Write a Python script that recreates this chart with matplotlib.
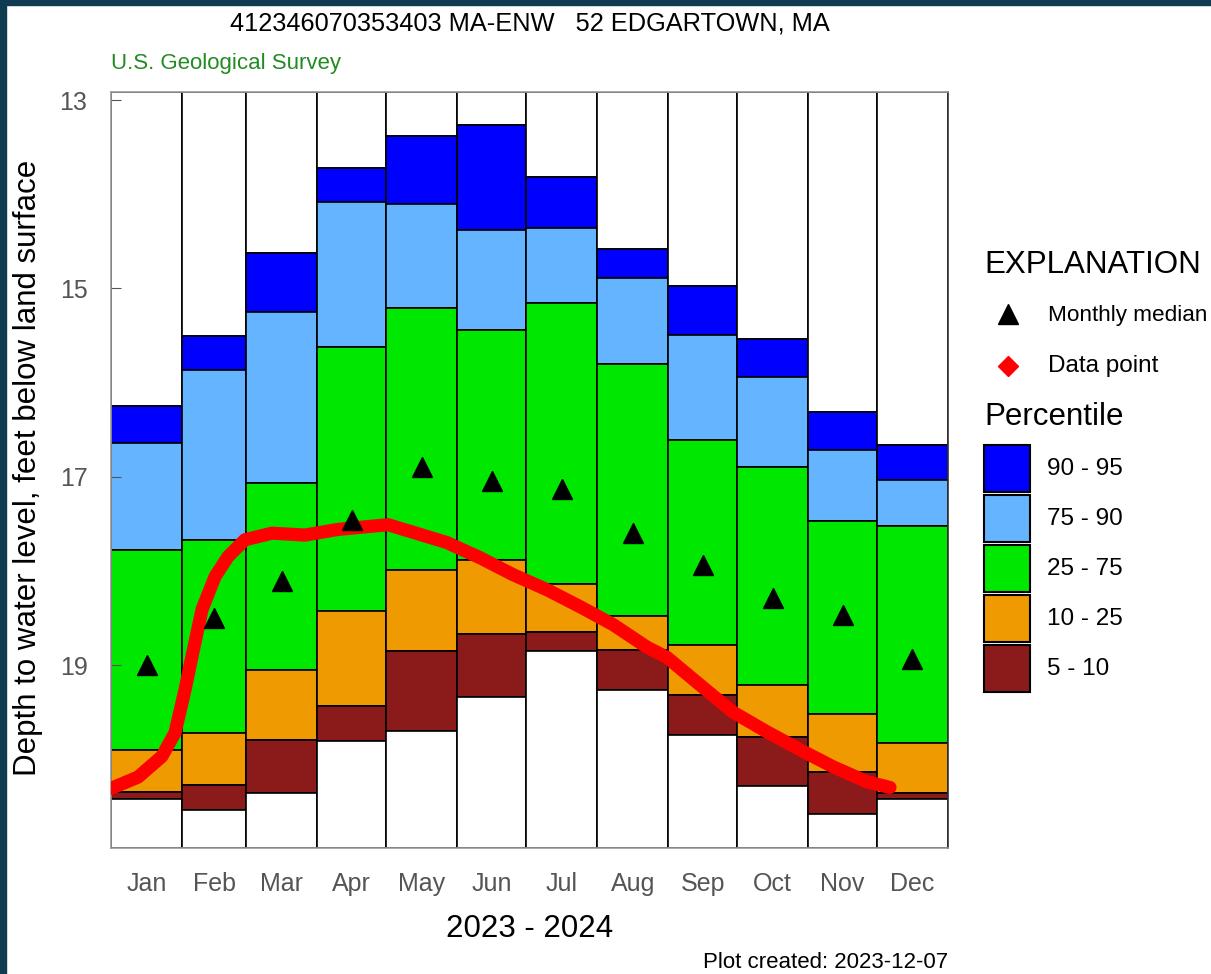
import matplotlib
matplotlib.use("Agg")
import matplotlib.pyplot as plt
from matplotlib.patches import Rectangle
from matplotlib.lines import Line2D
import numpy as np

plt.rcParams['font.family'] = ['Liberation Sans', 'DejaVu Sans']

months = ['Jan', 'Feb', 'Mar', 'Apr', 'May', 'Jun', 'Jul', 'Aug', 'Sep', 'Oct', 'Nov', 'Dec']
month_days = [31, 28, 31, 30, 31, 30, 31, 31, 30, 31, 30, 31]

# percentile boundaries, depth in feet below land surface
p95 = [16.25, 15.51, 14.62, 13.72, 13.38, 13.27, 13.82, 14.58, 14.98, 15.54, 16.31, 16.66]
p90 = [16.64, 15.87, 15.25, 14.08, 14.10, 14.38, 14.36, 14.89, 15.50, 15.94, 16.72, 17.03]
p75 = [17.78, 17.67, 17.07, 15.62, 15.21, 15.44, 15.16, 15.80, 16.61, 16.90, 17.47, 17.52]
p25 = [19.90, 19.72, 19.05, 18.43, 17.99, 17.89, 18.14, 18.48, 18.79, 19.21, 19.52, 19.83]
p10 = [20.35, 20.27, 19.80, 19.43, 18.85, 18.67, 18.65, 18.84, 19.32, 19.76, 20.14, 20.36]
p05 = [20.42, 20.54, 20.36, 19.81, 19.70, 19.34, 18.85, 19.27, 19.74, 20.28, 20.58, 20.42]
median = [19.00, 18.50, 18.11, 17.46, 16.90, 17.05, 17.13, 17.60, 17.94, 18.29, 18.47, 18.94]

# daily data, day of year vs depth
data_day = [0, 11.8, 22.2, 27.9, 32.3, 35.3, 39.7, 45.4, 51.0, 58.4, 70.2, 84.6, 99.0,
            120.8, 131.7, 146.5, 160.9, 175.3, 190.1, 204.5, 218.9, 233.7, 242.5,
            256.8, 271.2, 286.1, 300.5, 314.8, 329.7, 339.7]
data_depth = [20.31, 20.19, 19.97, 19.72, 19.26, 18.91, 18.41, 18.06, 17.85, 17.67, 17.60,
              17.62, 17.56, 17.51, 17.59, 17.70, 17.86, 18.04, 18.20, 18.38, 18.57, 18.81,
              18.92, 19.21, 19.50, 19.71, 19.90, 20.08, 20.24, 20.30]

colors = ['#0000FF', '#64B4FF', '#00E800', '#EE9A00', '#8B1A1A']
labels = ['90 - 95', '75 - 90', '25 - 75', '10 - 25', '5 - 10']

W, H = 1211, 974
ytop, ybot = 12.915, 20.943

def fx(x):
    return x / W

def fy(y):
    return 1 - y / H

fig = plt.figure(figsize=(W / 100, H / 100), dpi=100)
ax = fig.add_axes([fx(111), fy(848), fx(948) - fx(111), fy(92) - fy(848)])

starts = np.concatenate([[0], np.cumsum(month_days)[:-1]])
for i in range(12):
    bounds = [ytop, p95[i], p90[i], p75[i], p25[i], p10[i], p05[i], ybot]
    fills = ['white'] + colors + ['white']
    for j in range(7):
        ax.bar(starts[i], bounds[j + 1] - bounds[j], bottom=bounds[j], width=month_days[i],
               align='edge', color=fills[j], edgecolor='black', linewidth=1.2, zorder=1)

ax.plot(data_day, data_depth, color='red', linewidth=9.5, solid_capstyle='round',
        solid_joinstyle='round', zorder=3)
mid = starts + np.array(month_days) / 2
ax.plot(mid, median, linestyle='none', marker='^', markersize=15, color='black', zorder=4)

ax.set_xlim(0, 365)
ax.set_ylim(ybot, ytop)
ax.set_yticks([13, 15, 17, 19])
ax.set_xticks(mid)
ax.set_xticklabels(months)
ax.tick_params(axis='y', direction='in', length=7, color='#555555', labelsize=18,
               labelcolor='#555555', pad=17)
ax.tick_params(axis='x', length=0, labelsize=18, labelcolor='#555555', pad=17)
for s in ax.spines.values():
    s.set_color('#999999')
    s.set_linewidth(1.2)
ax.spines['right'].set_color('#333333')

# frame strips
fig.add_artist(Rectangle((0, 0), fx(6), 1, transform=fig.transFigure, color='#0f3b50'))
fig.add_artist(Rectangle((0, fy(5)), 1, fy(0) - fy(5), transform=fig.transFigure, color='#0f3b50'))

fig.text(fx(530), fy(23), '412346070353403 MA-ENW   52 EDGARTOWN, MA', ha='center', va='center',
         fontsize=18.3, color='black')
fig.text(fx(111), fy(64), 'U.S. Geological Survey', ha='left', va='center', fontsize=16,
         color='#228B22')
fig.text(fx(28), fy(468), 'Depth to water level, feet below land surface', rotation=90,
         ha='center', va='center', fontsize=22.5)
fig.text(fx(530), fy(929), '2023 - 2024', ha='center', va='center', fontsize=22.5)
fig.text(fx(948), fy(962), 'Plot created: 2023-12-07', ha='right', va='center', fontsize=16)

# explanation
fig.text(fx(984), fy(265), 'EXPLANATION', ha='left', va='center', fontsize=22.5)
fig.add_artist(Line2D([fx(1008)], [fy(314)], marker='^', markersize=15, color='black',
                      linestyle='none', transform=fig.transFigure))
fig.text(fx(1048), fy(316), 'Monthly median', ha='left', va='center', fontsize=16.2)
fig.add_artist(Line2D([fx(1008)], [fy(366)], marker='D', markersize=10, color='red',
                      linestyle='none', transform=fig.transFigure))
fig.text(fx(1048), fy(366), 'Data point', ha='left', va='center', fontsize=17.5)
fig.text(fx(984), fy(417), 'Percentile', ha='left', va='center', fontsize=22.5)
for k in range(5):
    y0 = 445 + k * 50
    fig.add_artist(Rectangle((fx(984), fy(y0 + 47)), fx(1030) - fx(984), fy(y0) - fy(y0 + 47),
                             transform=fig.transFigure, facecolor=colors[k],
                             edgecolor='black', linewidth=1.5))
    fig.text(fx(1047), fy(y0 + 24), labels[k], ha='left', va='center', fontsize=17.5)

fig.savefig('out.png', dpi=100)
